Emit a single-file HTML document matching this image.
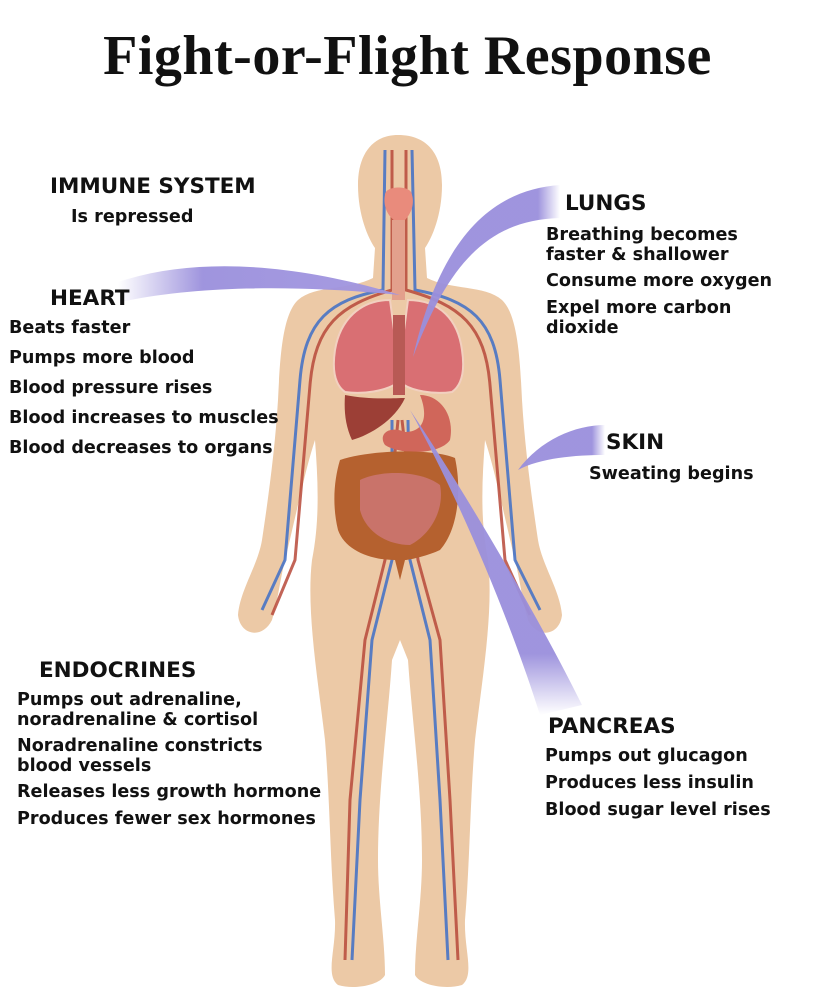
<!DOCTYPE html>
<html><head><meta charset="utf-8"><style>
body{margin:0;background:#fff;width:815px;height:1000px;overflow:hidden;position:relative;font-family:"DejaVu Sans","Liberation Sans",sans-serif;}
.t{position:absolute;font-weight:bold;color:#111;font-size:17.6px;line-height:20px;white-space:nowrap}
.h{position:absolute;font-weight:bold;color:#111;font-size:21.5px;white-space:nowrap}
h1{position:absolute;left:0;width:815px;top:24px;margin:0;text-align:center;font-family:"Liberation Serif",serif;font-size:56px;font-weight:bold;color:#111;letter-spacing:0.5px}
svg{position:absolute;left:0;top:0}
</style></head><body>
<svg width="815" height="1000" viewBox="0 0 815 1000">
<defs>
<linearGradient id="bh" x1="0" x2="1"><stop offset="0" stop-color="#9a8fdc" stop-opacity="0"/><stop offset="0.3" stop-color="#9a8fdc"/><stop offset="1" stop-color="#a296e0"/></linearGradient>
<linearGradient id="bl" x1="1" x2="0"><stop offset="0" stop-color="#9a8fdc" stop-opacity="0"/><stop offset="0.15" stop-color="#9a8fdc"/><stop offset="1" stop-color="#9a8fdc"/></linearGradient>
<linearGradient id="bp" x1="0" y1="1" x2="0" y2="0"><stop offset="0" stop-color="#9a8fdc" stop-opacity="0"/><stop offset="0.2" stop-color="#9a8fdc"/><stop offset="1" stop-color="#9a8fdc"/></linearGradient>
</defs>
<path fill="#ecc9a6" d="M398 135 C372 135 358 155 358 185 C358 215 368 238 375 248 L373 278 C350 290 315 285 298 300 C282 315 280 360 278 400 C275 450 268 500 262 540 C258 565 240 590 238 615 C240 635 262 640 272 620 C278 600 280 580 285 560 C295 520 305 470 315 440 C318 480 320 520 312 560 C306 610 318 680 325 740 C330 800 330 860 335 920 C336 950 325 975 338 985 C355 990 380 985 385 975 C385 940 378 900 378 860 C378 790 388 720 392 660 L400 640 L408 660 C412 720 422 790 422 860 C422 900 415 940 415 975 C420 985 445 990 462 985 C475 975 464 950 465 920 C470 860 470 800 475 740 C482 680 494 610 488 560 C480 520 482 480 485 440 C495 470 505 520 515 560 C520 580 522 600 528 620 C538 640 560 635 562 615 C560 590 542 565 538 540 C532 500 525 450 522 400 C520 360 518 315 502 300 C485 285 450 290 427 278 L425 248 C432 238 442 215 442 185 C442 155 428 135 398 135Z"/>
<g fill="none" stroke-width="3" opacity="0.85">
<path stroke="#3f6fc8" d="M385 150 L383 290 C330 300 305 320 300 380 L285 560 L262 610 M412 150 L415 290 C470 300 495 320 500 380 L515 560 L540 610 M392 420 L392 560 L372 640 L360 800 L352 960 M408 420 L410 560 L430 640 L440 800 L448 960"/>
<path stroke="#b84a3a" d="M392 150 L392 290 C340 305 315 325 310 385 L295 560 L272 615 M406 150 L406 290 C460 305 485 325 490 385 L505 560 L530 615 M398 420 L385 560 L365 640 L350 800 L345 960 M402 420 L418 560 L440 640 L450 800 L458 960"/>
</g>
<path fill="#e98b7c" d="M385 195 C385 185 412 185 412 195 C415 205 410 215 405 220 L394 220 C387 215 383 205 385 195Z"/>
<rect x="392" y="220" width="13" height="80" fill="#e3a08c"/>
<path fill="#d96f73" stroke="#f2d0c0" stroke-width="2" d="M390 300 C360 300 340 320 335 350 C332 370 335 385 345 392 C365 395 385 390 394 385 L394 330Z"/>
<path fill="#d96f73" stroke="#f2d0c0" stroke-width="2" d="M408 300 C440 300 458 320 462 350 C465 370 462 385 452 392 C432 395 412 390 404 385 L404 330Z"/>
<rect x="393" y="315" width="12" height="80" fill="#b85a55"/>
<path fill="#9c3f36" d="M345 395 C370 400 395 398 405 398 C395 420 370 435 352 440 C345 425 344 410 345 395Z"/>
<path fill="#d0665a" d="M420 395 C440 395 455 415 450 440 C440 455 400 455 385 445 C378 435 388 425 405 432 C425 432 428 415 420 395Z"/>
<path fill="#b5612f" d="M340 460 C370 450 430 448 455 458 C462 490 458 530 440 550 C430 555 410 560 405 560 L400 580 L395 560 C370 560 345 550 338 530 C332 505 334 480 340 460Z"/>
<path fill="#c9736a" d="M360 480 C380 470 420 470 440 485 C445 510 430 535 410 545 C385 545 365 530 360 510Z"/>
<path fill="url(#bh)" opacity="0.95" d="M118 282 C200 255 300 265 400 295 C300 285 200 285 120 302Z"/>
<path fill="url(#bl)" opacity="0.95" d="M560 185 C490 190 440 240 413 357 C450 260 490 220 560 218Z"/>
<path fill="url(#bl)" opacity="0.95" d="M605 425 C575 425 540 440 518 470 C540 458 575 455 605 455Z"/>
<path fill="url(#bp)" opacity="0.95" d="M410 410 C470 500 540 620 582 705 L540 715 C510 620 460 500 410 410Z"/>
</svg>
<h1>Fight-or-Flight Response</h1>
<div class="h" style="left:50px;top:174px">IMMUNE SYSTEM</div>
<div class="t" style="left:71px;top:207px">Is repressed</div>
<div class="h" style="left:50px;top:286px">HEART</div>
<div class="t" style="left:9px;top:318px">Beats faster</div>
<div class="t" style="left:9px;top:348px">Pumps more blood</div>
<div class="t" style="left:9px;top:378px">Blood pressure rises</div>
<div class="t" style="left:9px;top:408px">Blood increases to muscles</div>
<div class="t" style="left:9px;top:438px">Blood decreases to organs</div>
<div class="h" style="left:565px;top:191px">LUNGS</div>
<div class="t" style="left:546px;top:225px">Breathing becomes<br>faster &amp; shallower</div>
<div class="t" style="left:546px;top:271px">Consume more oxygen</div>
<div class="t" style="left:546px;top:298px">Expel more carbon<br>dioxide</div>
<div class="h" style="left:606px;top:430px">SKIN</div>
<div class="t" style="left:589px;top:464px">Sweating begins</div>
<div class="h" style="left:39px;top:658px">ENDOCRINES</div>
<div class="t" style="left:17px;top:690px">Pumps out adrenaline,<br>noradrenaline &amp; cortisol</div>
<div class="t" style="left:17px;top:736px">Noradrenaline constricts<br>blood vessels</div>
<div class="t" style="left:17px;top:782px">Releases less growth hormone</div>
<div class="t" style="left:17px;top:809px">Produces fewer sex hormones</div>
<div class="h" style="left:548px;top:714px">PANCREAS</div>
<div class="t" style="left:545px;top:746px">Pumps out glucagon</div>
<div class="t" style="left:545px;top:773px">Produces less insulin</div>
<div class="t" style="left:545px;top:800px">Blood sugar level rises</div>
</body></html>
